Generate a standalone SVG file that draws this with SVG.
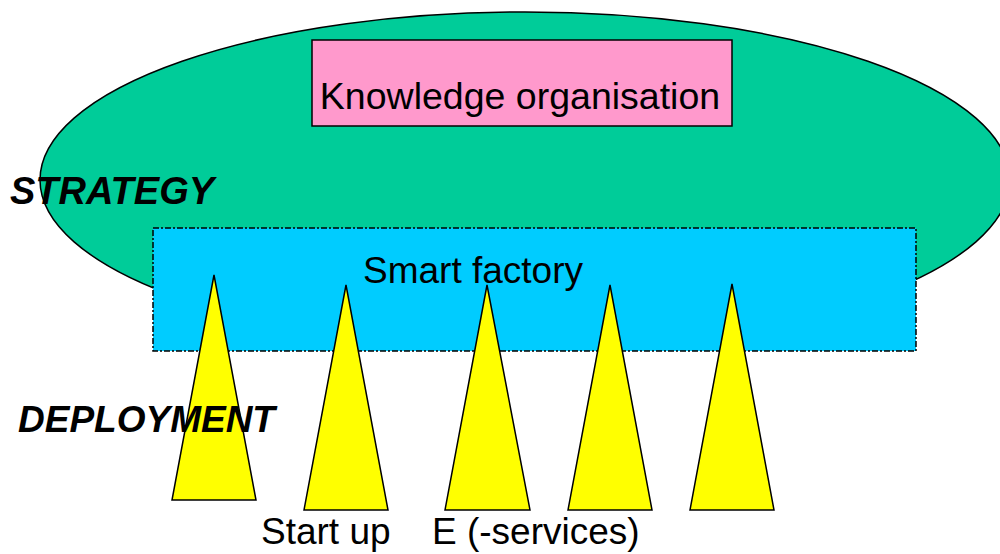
<svg xmlns="http://www.w3.org/2000/svg" width="1000" height="554" viewBox="0 0 1000 554">
<style>
text{font-family:"Liberation Sans",Arial,sans-serif;font-size:37px;fill:#000}
.b{font-weight:bold;font-style:italic}
.tri{fill:#FFFF00;stroke:#000;stroke-width:1.5;stroke-linejoin:miter}
</style>
<rect width="1000" height="554" fill="#fff"/>
<g id="strategy-ellipse">
<ellipse cx="525" cy="180" rx="485" ry="168" fill="#00CC99" stroke="#000" stroke-width="1.5"/>
</g>
<g id="knowledge">
<rect x="312" y="40" width="420" height="86" fill="#FF99CC" stroke="#000" stroke-width="1.5"/>
<text x="520" y="109" text-anchor="middle" style="font-size:37.5px">Knowledge organisation</text>
</g>
<g id="smart-factory">
<rect x="153" y="228" width="763" height="123" fill="#00CCFF" stroke="#000" stroke-width="1.5" stroke-dasharray="6,2,2,2"/>
</g>
<g id="pillars">
<polygon class="tri" points="214,275 256,500 172,500"/>
<polygon class="tri" points="346,285 388,510 304,510"/>
<polygon class="tri" points="487,285 530,510 445,510"/>
<polygon class="tri" points="610,285 652,510 568,510"/>
<polygon class="tri" points="732,284 774,510 690,510"/>
</g>
<g id="labels">
<text x="473" y="283" text-anchor="middle">Smart factory</text>
<text class="b" x="10" y="204" style="font-size:38px">STRATEGY</text>
<text class="b" x="18" y="432">DEPLOYMENT</text>
<text x="261" y="544">Start up</text>
<text x="432" y="544">E (-services)</text>
</g>
</svg>
